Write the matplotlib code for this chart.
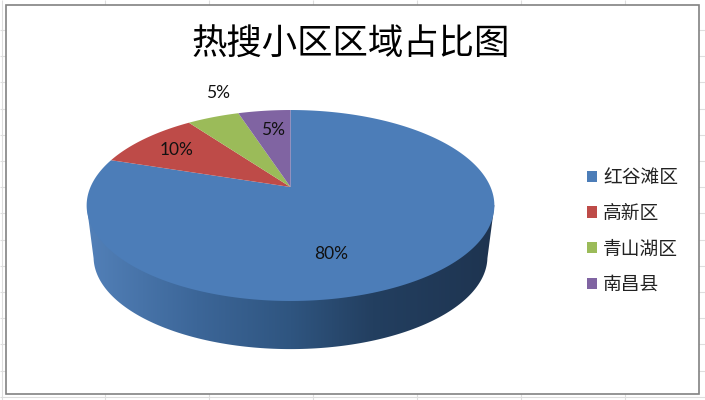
#!/usr/bin/env python3

import numpy as np
import matplotlib
matplotlib.use("Agg")
import matplotlib.pyplot as plt
from matplotlib.colors import LinearSegmentedColormap
from matplotlib.patches import Polygon, Rectangle
from matplotlib.path import Path
from matplotlib.transforms import Affine2D, Transform

title = "热搜小区区域占比图"
areas = ["红谷滩区", "高新区", "青山湖区", "南昌县"]
shares = [80, 10, 5, 5]
colors = ["#4c7db8", "#be4b48", "#9bbb59", "#8064a2"]

# where the percent labels sit, in pixels
label_xy = [(331, 254), (177, 150), (218, 93), (273, 130)]

plt.rcParams["font.family"] = ["Noto Sans CJK SC", "DejaVu Sans"]

# the tilted pie: unit circle -> pixels, apex is above the ellipse centre
APEX_X, APEX_Y = 290.5, 187
SX, SY, TILT = 200, 91.9, 0.1937


def project(xy, scale=1.0, drop=0.0):
    u, v = xy[:, 0], xy[:, 1]
    d = 1 + TILT * v
    return np.column_stack([APEX_X + scale * SX * u / d,
                            APEX_Y + drop - scale * SY * v / d])


class TiltTransform(Transform):
    input_dims = output_dims = 2
    is_separable = False
    has_inverse = False

    def transform_non_affine(self, values):
        return project(np.asarray(values, dtype=float))

    def transform_path_non_affine(self, path):
        # flatten the arcs first, beziers do not survive a projective map
        big = path.transformed(Affine2D().scale(2000))
        verts = big.to_polygons(closed_only=False)[0] / 2000
        return Path(project(verts))


fig = plt.figure(figsize=(7.05, 4), dpi=100)
ax = fig.add_axes([0, 0, 1, 1])

wedges, _ = ax.pie(shares, colors=colors, startangle=90, counterclock=False,
                   wedgeprops={"linewidth": 0, "zorder": 5})
for w in wedges:
    w.set_transform(TiltTransform() + ax.transData)

# spreadsheet behind the chart
ax.vlines(np.arange(1, 8) * 104 + 1, 0, 400, color="#dedede", lw=0.8, zorder=0)
ax.hlines(np.arange(0, 15) * 26.2 + 30, 0, 705, color="#dedede", lw=0.8, zorder=0)
ax.vlines(2, 0, 400, color="#dedede", lw=0.8, zorder=0)
ax.add_patch(Rectangle((5.5, 4.5), 693.5, 389.5, fc="white", ec="#828282", lw=1.2, zorder=1))

# side of the cylinder
t = np.linspace(0, 2 * np.pi, 361)
circle = np.column_stack([np.cos(t), np.sin(t)])
top_rim = project(circle)
low_rim = project(circle, scale=0.966, drop=52)
left = top_rim[:, 0].argmin()
right = top_rim[:, 0].argmax()
low_front = low_rim[low_rim[:, 1] > 257]
low_front = low_front[low_front[:, 0].argsort()]
side = Polygon(np.vstack([top_rim[left], low_front, top_rim[right]]),
               closed=True, fc="none", ec="none")
ax.add_patch(side)

shade = LinearSegmentedColormap.from_list("side", [
    (0.0, "#5280b8"), (0.27, "#3c6698"), (0.5, "#2f5580"),
    (0.7, "#233f60"), (1.0, "#1e3450")])
img = ax.imshow(np.linspace(0, 1, 256)[None, :], cmap=shade, aspect="auto",
                extent=(87, 495, 360, 200), zorder=3)
img.set_clip_path(side)

for val, (x, y) in zip(shares, label_xy):
    ax.text(x, y, "{}%".format(val), ha="center", va="center", fontsize=12.5,
            family="Lato", color="#111111", zorder=6)

ax.text(351, 45, title, ha="center", va="center", fontsize=25.5, color="black",
        zorder=6)

ax.set_aspect("auto")
ax.set_xlim(0, 705)
ax.set_ylim(400, 0)
ax.axis("off")

fig.legend(wedges, areas, loc="center left", bbox_to_anchor=(587 / 705, 1 - 231 / 400),
           frameon=False, fontsize=13.5, handlelength=0.55, handleheight=0.55,
           handletextpad=0.32, labelspacing=0.78, borderpad=0, borderaxespad=0,
           labelcolor="#222222")

fig.savefig("out.png", dpi=100)
